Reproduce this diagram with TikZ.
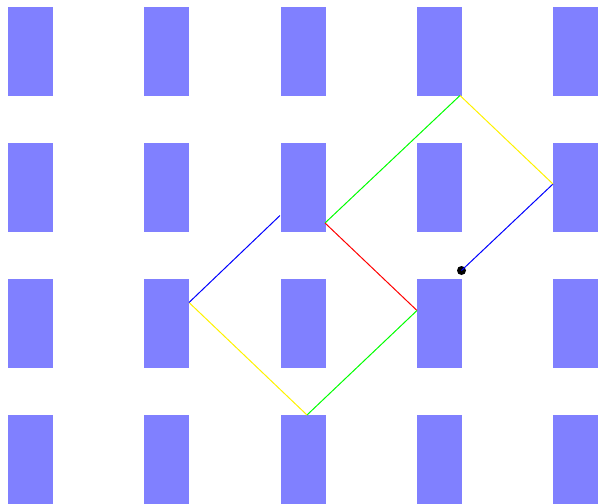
\documentclass[tikz,border=0pt]{standalone}
\usetikzlibrary{calc}
\tikzstyle{pillar} = [fill=blue!50, draw=none]
\tikzstyle{ray} = [line width=1pt, line join=miter]
\tikzstyle{spot} = [circle, fill=black, inner sep=0pt, minimum size=9pt]

\begin{document}
\begin{tikzpicture}[x=1pt, y=-1pt]

\useasboundingbox (0,0) rectangle (598,504);
\clip (0,0) rectangle (598,504);

\foreach \i in {0,...,4}
  \foreach \j in {0,...,3}
    \fill [pillar] ({8+136.25*\i},{7+136*\j}) rectangle ++(45,89);

\node (start) [spot] at (461.5,270.5) {};
\coordinate (b1) at (553,184);
\coordinate (b2) at (460,95.5);
\coordinate (b3) at (325,223);
\coordinate (b4) at (417,310.5);
\coordinate (b5) at (307,415);
\coordinate (b6) at (189,302.5);
\coordinate (b7) at (280,215.5);

\draw [ray, blue] (start.center) -- (b1);
\draw [ray, yellow] (b1) -- (b2);
\draw [ray, green] (b2) -- (b3);
\draw [ray, red] (b3) -- (b4);
\draw [ray, green] (b4) -- (b5);
\draw [ray, yellow] (b5) -- (b6);
\draw [ray, blue] (b6) -- (b7);

\end{tikzpicture}
\end{document}
